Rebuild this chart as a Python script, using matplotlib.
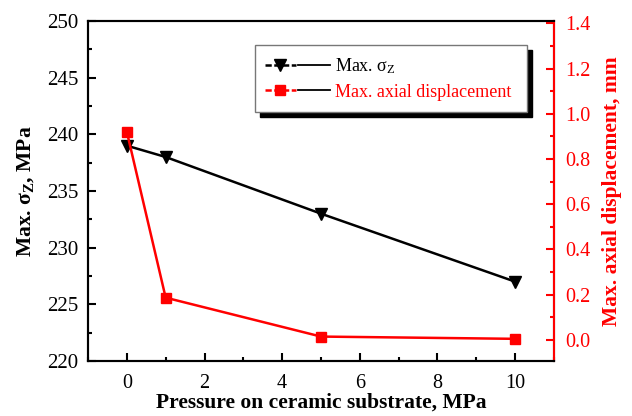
import matplotlib
matplotlib.use('Agg')
import matplotlib.pyplot as plt
from matplotlib.lines import Line2D
from matplotlib.patches import Rectangle
from matplotlib.legend_handler import HandlerTuple
from matplotlib.ticker import MultipleLocator

# data
pressure = [0, 1, 5, 10]
sigma_z = [239, 238, 233, 227]
displacement = [0.92, 0.187, 0.015, 0.005]
disp_ticks = [0.0, 0.2, 0.4, 0.6, 0.8, 1.0, 1.2, 1.4]

plt.rcParams['font.family'] = ['Liberation Serif', 'DejaVu Serif']
plt.rcParams['mathtext.fontset'] = 'custom'
plt.rcParams['mathtext.rm'] = 'Liberation Serif'
plt.rcParams['mathtext.it'] = 'Liberation Serif:italic'
plt.rcParams['mathtext.bf'] = 'Liberation Serif:bold'

fig = plt.figure(figsize=(6.32, 4.16), dpi=100)
ax = fig.add_axes([88 / 632, 55 / 416, 466 / 632, 340 / 416])
ax2 = ax.twinx()

ax.plot(pressure, sigma_z, color='black', lw=1.8, marker='v', ms=8,
        zorder=3)
ax2.plot(pressure, displacement, color='red', lw=1.8, marker='s', ms=7,
         zorder=3)

ax.set_xlim(-1, 11)
ax.set_ylim(220, 250)
ax2.set_ylim(-0.093, 1.41)

ax.xaxis.set_major_locator(MultipleLocator(2))
ax.xaxis.set_minor_locator(MultipleLocator(1))
ax.yaxis.set_major_locator(MultipleLocator(5))
ax.yaxis.set_minor_locator(MultipleLocator(2.5))
ax2.yaxis.set_minor_locator(MultipleLocator(0.1))
ax2.set_yticks(disp_ticks)
ax2.set_yticklabels(['%.1f' % v for v in disp_ticks])

for a in (ax, ax2):
    for s in a.spines.values():
        s.set_linewidth(1.5)
ax2.spines['right'].set_color('red')

ax.tick_params(which='both', direction='in', width=1.5, top=False)
ax.tick_params(axis='y', labelsize=15, pad=7)
ax.tick_params(axis='x', labelsize=14.5, pad=9)
ax.tick_params(which='major', length=6)
ax.tick_params(which='minor', length=3)
ax2.tick_params(which='both', direction='in', labelsize=14.5, width=1.5,
                colors='red', pad=8)
ax2.tick_params(which='major', length=6)
ax2.tick_params(which='minor', length=3)

ax.set_xlabel('Pressure on ceramic substrate, MPa', fontsize=15.5,
              fontweight='bold', labelpad=0)
ax.set_ylabel(r'Max. $\mathbf{\sigma_Z}$, MPa', fontsize=15.5,
              fontweight='bold', labelpad=8)
ax2.set_ylabel('Max. axial displacement, mm', fontsize=15.5,
               fontweight='bold', color='red', labelpad=8)

# legend box with a hard black shadow
bx, by, bw, bh = 255 / 632, 1 - 112 / 416, 272 / 632, 67 / 416
fig.patches.append(Rectangle((bx + 5 / 632, by - 5 / 416), bw, bh,
                             transform=fig.transFigure, color='black',
                             zorder=5))
fig.patches.append(Rectangle((bx, by), bw, bh, transform=fig.transFigure,
                             facecolor='white', edgecolor='#777777', lw=1,
                             zorder=6))

h1 = (Line2D([], [], color='black', lw=1.8, marker='v', ms=8,
             ls=(0, (2.5, 1))),
      Line2D([], [], color='black', lw=1.3))
h2 = (Line2D([], [], color='red', lw=1.8, marker='s', ms=7,
             ls=(0, (2.5, 1))),
      Line2D([], [], color='black', lw=1.3))
leg = fig.legend([h1, h2], [r'Max. $\mathrm{\sigma_Z}$', 'Max. axial displacement'],
                 handler_map={tuple: HandlerTuple(ndivide=None, pad=0.1)},
                 loc='upper left', bbox_to_anchor=(252 / 632, 1 - 44 / 416),
                 frameon=False, fontsize=13, handlelength=3.6,
                 handletextpad=0.3, labelspacing=0.4, borderpad=0.2)
leg.set_zorder(7)
leg.get_texts()[1].set_color('red')

fig.savefig('out.png', dpi=100)
